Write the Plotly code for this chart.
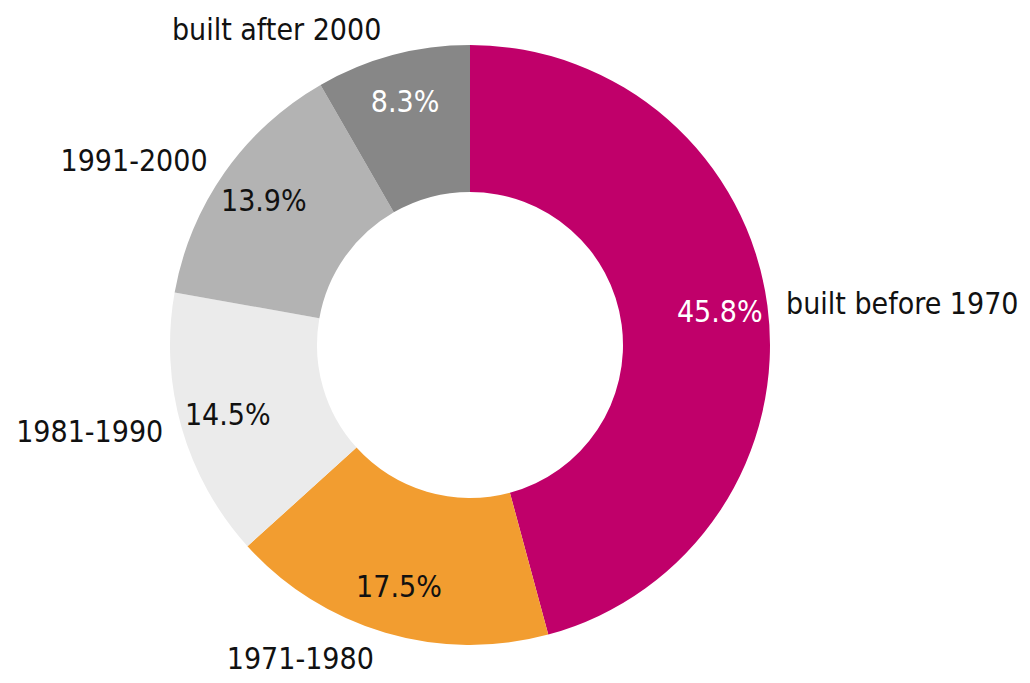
import plotly.graph_objects as go

labels = ["built before 1970", "1971-1980", "1981-1990", "1991-2000", "built after 2000"]
shares = [45.8, 17.5, 14.5, 13.9, 8.3]
colors = ["#C0006A", "#F29D30", "#EBEBEB", "#B3B3B3", "#878787"]
pct_colors = ["#FFFFFF", "#111111", "#111111", "#111111", "#FFFFFF"]

FONT = "DejaVu Sans Condensed"
dom = dict(x=[170/1030, 770/1030], y=[38/683, 638/683])
dom_lab = dict(x=[160/1030, 780/1030], y=[28/683, 648/683])
clear = ["rgba(0,0,0,0)"] * len(labels)
common = dict(labels=labels, values=shares, sort=False, direction="clockwise",
              rotation=0, showlegend=False, hoverinfo="skip")

fig = go.Figure()
# coloured donut
fig.add_trace(go.Pie(
    **common, domain=dom, hole=0.51,
    marker=dict(colors=colors, line=dict(width=0)),
    textinfo="none",
))
# percentage labels, placed in the outer part of the ring
fig.add_trace(go.Pie(
    **common, domain=dom, hole=0.68,
    marker=dict(colors=clear, line=dict(width=0)),
    texttemplate="%{value:.1f}%", textposition="inside",
    insidetextorientation="horizontal",
    textfont=dict(family=FONT, size=30, color=pct_colors),
))
# category labels outside
fig.add_trace(go.Pie(
    **common, domain=dom_lab, hole=0.51,
    marker=dict(colors=clear, line=dict(width=0)),
    texttemplate="%{label}", textposition="outside",
    textfont=dict(family=FONT, size=30, color="#111111"),
))
fig.update_layout(
    width=1030, height=683,
    margin=dict(l=0, r=0, t=0, b=0),
    paper_bgcolor="white", plot_bgcolor="white",
)
fig.write_html("out.html")
